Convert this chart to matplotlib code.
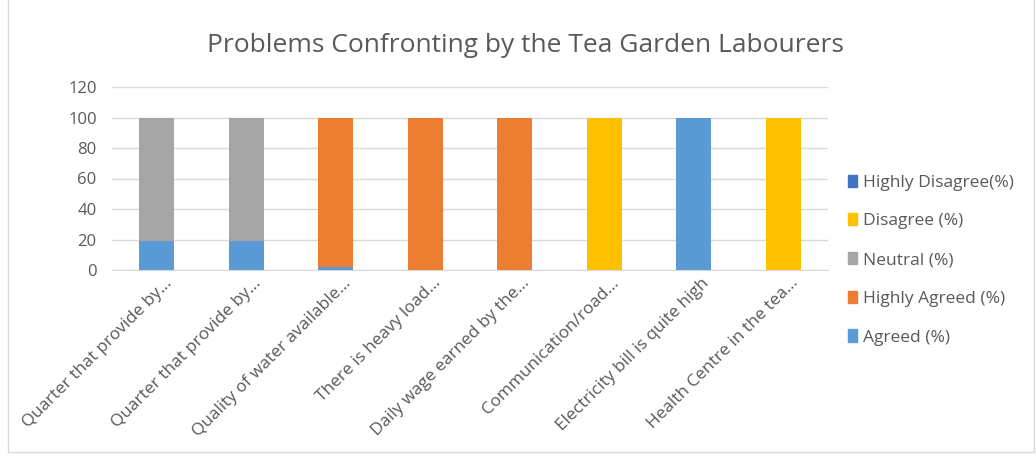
import matplotlib
matplotlib.use("Agg")
import matplotlib.pyplot as plt
from matplotlib.patches import Rectangle
import matplotlib.transforms as mtransforms
import numpy as np

categories = ["Quarter that provide by...", "Quarter that provide by...",
              "Quality of water available...", "There is heavy load...",
              "Daily wage earned by the...", "Communication/road...",
              "Electricity bill is quite high", "Health Centre in the tea..."]
agreed = [19, 19, 2, 0, 0, 0, 100, 0]
highly_agreed = [0, 0, 98, 100, 100, 0, 0, 0]
neutral = [81, 81, 0, 0, 0, 0, 0, 0]
disagree = [0, 0, 0, 0, 0, 100, 0, 100]
highly_disagree = [0, 0, 0, 0, 0, 0, 0, 0]
yticks = [0, 20, 40, 60, 80, 100, 120]

series = [("Agreed (%)", agreed, "#5B9BD5"),
          ("Highly Agreed (%)", highly_agreed, "#ED7D31"),
          ("Neutral (%)", neutral, "#A5A5A5"),
          ("Disagree (%)", disagree, "#FFC000"),
          ("Highly Disagree(%)", highly_disagree, "#4472C4")]

plt.rcParams['font.family'] = ['Open Sans', 'DejaVu Sans']
fig = plt.figure(figsize=(10.36, 4.57), dpi=100)
ax = fig.add_axes([112 / 1036, 187 / 457, 716 / 1036, 183 / 457])

x = np.arange(len(categories))
bottom = np.zeros(len(categories))
handles = []
for name, vals, col in series:
    ax.bar(x, vals, 0.39, bottom=bottom, color=col, zorder=3)
    bottom += np.array(vals)
    handles.append(Rectangle((0, 0), 1, 1, color=col, label=name))

ax.set_xlim(-0.5, len(categories) - 0.5)
ax.set_ylim(0, 120)
ax.set_yticks(yticks)
ax.yaxis.grid(True, color="#D9D9D9", linewidth=1, zorder=0)
for s in ["top", "right", "left"]:
    ax.spines[s].set_visible(False)
ax.spines["bottom"].set_color("#D9D9D9")
ax.tick_params(axis="both", length=0, colors="#595959", labelsize=12)
ax.tick_params(axis="x", labelsize=12.4, pad=5)
ax.tick_params(axis="y", pad=11)
ax.set_xticks(x)
ax.set_xticklabels(categories, rotation=45, ha="right", rotation_mode="anchor")
offset = mtransforms.ScaledTranslation(7 / 100, 2 / 100, fig.dpi_scale_trans)
for lbl in ax.get_xticklabels():
    lbl.set_transform(lbl.get_transform() + offset)

fig.text(0.507, 0.9, "Problems Confronting by the Tea Garden Labourers",
         ha="center", va="center", fontsize=19, color="#595959")

leg = fig.legend(handles=handles[::-1], loc="center left",
                 bbox_to_anchor=(0.803, 0.431), frameon=False, fontsize=12.5,
                 labelcolor="#595959", handlelength=0.55, handleheight=0.7,
                 labelspacing=1.3, handletextpad=0.35)

fig.patches.append(Rectangle((0.008, 0.01), 0.99, 0.995, transform=fig.transFigure,
                             fill=False, edgecolor="#D9D9D9", linewidth=1))

fig.savefig("out.png", dpi=100)
